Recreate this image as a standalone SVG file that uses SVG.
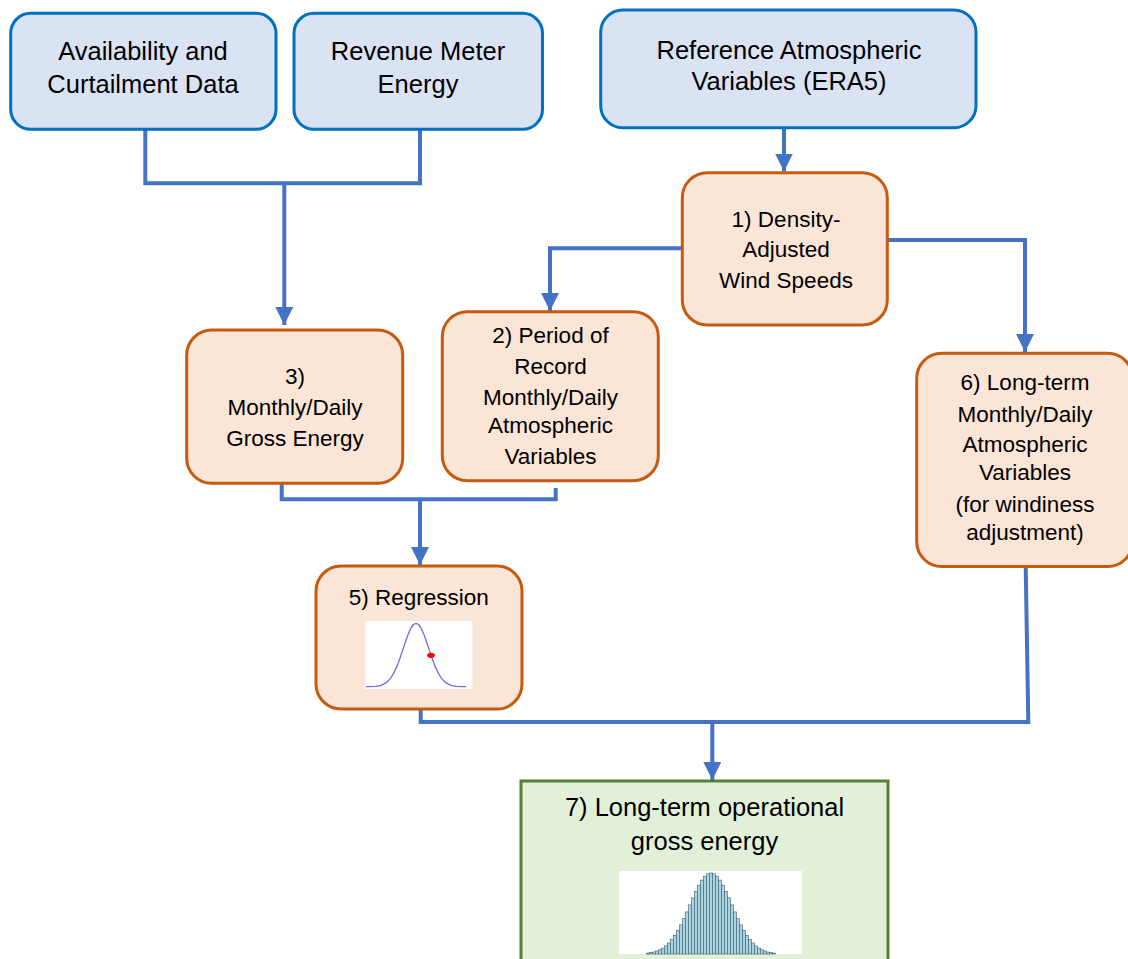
<svg xmlns="http://www.w3.org/2000/svg" width="1128" height="959" viewBox="0 0 1128 959">
<defs>
<style>
.in{fill:#dae3f3;stroke:#0070c0;stroke-width:3}
.st{fill:#fbe5d6;stroke:#c55a11;stroke-width:3}
.out{fill:#e2f0d9;stroke:#548235;stroke-width:3}
.t1{font-family:"Liberation Sans",Arial,sans-serif;font-size:25.5px;fill:#000;text-anchor:middle}
.t2{font-family:"Liberation Sans",Arial,sans-serif;font-size:22.5px;fill:#000;text-anchor:middle}
.c{fill:none;stroke:#4472c4;stroke-width:4;stroke-linejoin:miter}
.bar{fill:#a8d4e3;stroke:#3d5c68;stroke-width:0.6}
</style>
<marker id="arr" viewBox="0 0 10 10" refX="10" refY="5" markerUnits="userSpaceOnUse" markerWidth="18" markerHeight="18" orient="auto">
<path d="M0,0 L10,5 L0,10 Z" fill="#4472c4"/>
</marker>
</defs>
<rect width="1128" height="959" fill="#ffffff"/>
<g id="connectors">
<path class="c" d="M145.3,129 V183.3 H420 V129"/>
<path class="c" d="M284.3,183.3 V325" marker-end="url(#arr)"/>
<path class="c" d="M784,128 V171.5" marker-end="url(#arr)"/>
<path class="c" d="M682,248.3 H550 V311" marker-end="url(#arr)"/>
<path class="c" d="M888,240 H1025 V352" marker-end="url(#arr)"/>
<path class="c" d="M281.7,483 V499.3 H555.7 V488"/>
<path class="c" d="M420,499.3 V565" marker-end="url(#arr)"/>
<path class="c" d="M1025.7,566.5 L1028.3,722 H420.7 V709"/>
<path class="c" d="M712.3,722 V780" marker-end="url(#arr)"/>
</g>
<g id="node-availability">
<rect class="in" x="10.7" y="13.3" width="265.3" height="116" rx="20"/>
<text class="t1" x="143" y="60">Availability and</text>
<text class="t1" x="143" y="93.3">Curtailment Data</text>
</g>
<g id="node-revenue">
<rect class="in" x="294" y="13.3" width="248.5" height="116" rx="20"/>
<text class="t1" x="418" y="60">Revenue Meter</text>
<text class="t1" x="418" y="93.3">Energy</text>
</g>
<g id="node-reference">
<rect class="in" x="600.7" y="10" width="375.3" height="117.7" rx="22"/>
<text class="t1" x="789" y="59.3">Reference Atmospheric</text>
<text class="t1" x="789" y="90">Variables (ERA5)</text>
</g>
<g id="node-1">
<rect class="st" x="682.3" y="172.7" width="205" height="152.3" rx="25"/>
<text class="t2" x="786" y="226.7">1) Density-</text>
<text class="t2" x="786" y="256.7">Adjusted</text>
<text class="t2" x="786" y="288.3">Wind Speeds</text>
</g>
<g id="node-2">
<rect class="st" x="442.3" y="311.7" width="216" height="169" rx="25"/>
<text class="t2" x="550.5" y="343.3">2) Period of</text>
<text class="t2" x="550.5" y="374">Record</text>
<text class="t2" x="550.5" y="405">Monthly/Daily</text>
<text class="t2" x="550.5" y="433.3">Atmospheric</text>
<text class="t2" x="550.5" y="464.3">Variables</text>
</g>
<g id="node-3">
<rect class="st" x="186.7" y="330" width="216" height="153.3" rx="25"/>
<text class="t2" x="295" y="384">3)</text>
<text class="t2" x="295" y="415">Monthly/Daily</text>
<text class="t2" x="295" y="446">Gross Energy</text>
</g>
<g id="node-6">
<rect class="st" x="916.7" y="353.3" width="216" height="213.3" rx="25"/>
<text class="t2" x="1025" y="390">6) Long-term</text>
<text class="t2" x="1025" y="421.7">Monthly/Daily</text>
<text class="t2" x="1025" y="451.7">Atmospheric</text>
<text class="t2" x="1025" y="480">Variables</text>
<text class="t2" x="1025" y="511.7">(for windiness</text>
<text class="t2" x="1025" y="540">adjustment)</text>
</g>
<g id="node-5">
<rect class="st" x="316" y="566" width="206" height="143" rx="25"/>
<text class="t2" x="418.7" y="605">5) Regression</text>
<rect x="365.5" y="621" width="107" height="68" fill="#ffffff"/>
<polyline fill="none" stroke="#6a6af0" stroke-width="1.3" stroke-linejoin="round" points="366,686.7 376,686.3 381,685.3 386,682.8 388.5,680.6 391,677.6 393.5,673.5 396,668.4 398.5,662.2 401,655.1 403.5,647.6 406,640.2 408.5,633.4 411,628 413.5,624.5 416,623.3 418.5,624.5 421,628 423.5,633.4 426,640.2 428.5,647.6 431,655.1 433.5,662.2 436,668.4 438.5,673.5 441,677.6 443.5,680.6 446,682.8 451,685.3 456,686.3 466,686.7"/>
<ellipse cx="431" cy="655.3" rx="3.8" ry="2.6" fill="#ff0000"/>
</g>
<g id="node-7">
<rect class="out" x="521" y="781" width="367" height="200"/>
<text class="t1" x="704.5" y="815.5">7) Long-term operational</text>
<text class="t1" x="704.5" y="850">gross energy</text>
<rect x="619" y="871" width="183" height="83" fill="#ffffff"/>
<g>
<rect class="bar" x="646.5" y="953.1" width="3" height="0.9"/>
<rect class="bar" x="649.5" y="952.6" width="3" height="1.4"/>
<rect class="bar" x="652.5" y="952" width="3" height="2"/>
<rect class="bar" x="655.5" y="951" width="3" height="3"/>
<rect class="bar" x="658.5" y="949.8" width="3" height="4.2"/>
<rect class="bar" x="661.5" y="948.1" width="3" height="5.9"/>
<rect class="bar" x="664.5" y="945.9" width="3" height="8.1"/>
<rect class="bar" x="667.5" y="943" width="3" height="11"/>
<rect class="bar" x="670.5" y="939.6" width="3" height="14.4"/>
<rect class="bar" x="673.5" y="935.4" width="3" height="18.6"/>
<rect class="bar" x="676.5" y="930.5" width="3" height="23.5"/>
<rect class="bar" x="679.5" y="924.9" width="3" height="29.1"/>
<rect class="bar" x="682.5" y="918.7" width="3" height="35.3"/>
<rect class="bar" x="685.5" y="911.9" width="3" height="42.1"/>
<rect class="bar" x="688.5" y="904.9" width="3" height="49.1"/>
<rect class="bar" x="691.5" y="897.9" width="3" height="56.1"/>
<rect class="bar" x="694.5" y="891.5" width="3" height="62.5"/>
<rect class="bar" x="697.5" y="885.2" width="3" height="68.8"/>
<rect class="bar" x="700.5" y="880.1" width="3" height="73.9"/>
<rect class="bar" x="703.5" y="876.2" width="3" height="77.8"/>
<rect class="bar" x="706.5" y="873.8" width="3" height="80.2"/>
<rect class="bar" x="709.5" y="873" width="3" height="81"/>
<rect class="bar" x="712.5" y="873.8" width="3" height="80.2"/>
<rect class="bar" x="715.5" y="876.2" width="3" height="77.8"/>
<rect class="bar" x="718.5" y="880.1" width="3" height="73.9"/>
<rect class="bar" x="721.5" y="885.2" width="3" height="68.8"/>
<rect class="bar" x="724.5" y="891.5" width="3" height="62.5"/>
<rect class="bar" x="727.5" y="897.9" width="3" height="56.1"/>
<rect class="bar" x="730.5" y="904.9" width="3" height="49.1"/>
<rect class="bar" x="733.5" y="911.9" width="3" height="42.1"/>
<rect class="bar" x="736.5" y="918.7" width="3" height="35.3"/>
<rect class="bar" x="739.5" y="924.9" width="3" height="29.1"/>
<rect class="bar" x="742.5" y="930.5" width="3" height="23.5"/>
<rect class="bar" x="745.5" y="935.4" width="3" height="18.6"/>
<rect class="bar" x="748.5" y="939.6" width="3" height="14.4"/>
<rect class="bar" x="751.5" y="943" width="3" height="11"/>
<rect class="bar" x="754.5" y="945.9" width="3" height="8.1"/>
<rect class="bar" x="757.5" y="948.1" width="3" height="5.9"/>
<rect class="bar" x="760.5" y="949.8" width="3" height="4.2"/>
<rect class="bar" x="763.5" y="951" width="3" height="3"/>
<rect class="bar" x="766.5" y="952" width="3" height="2"/>
<rect class="bar" x="769.5" y="952.6" width="3" height="1.4"/>
<rect class="bar" x="772.5" y="953.1" width="3" height="0.9"/>
</g>
</g>
</svg>
